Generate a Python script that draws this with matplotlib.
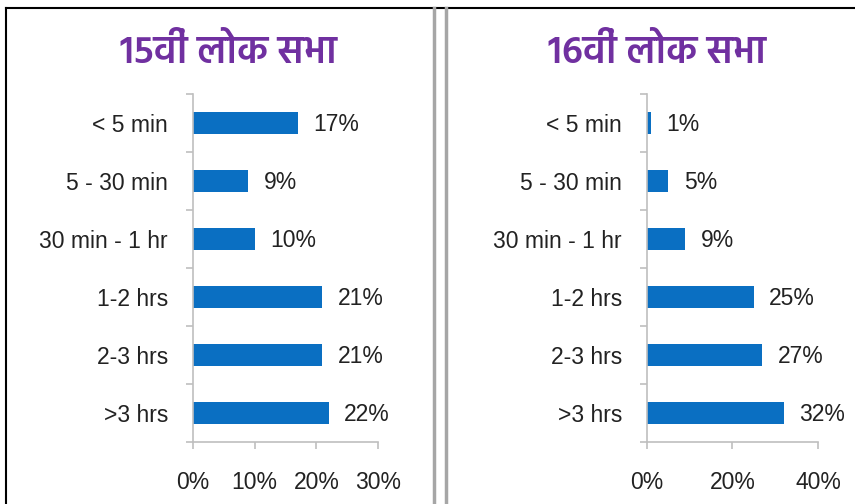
import matplotlib
matplotlib.use("Agg")
import matplotlib.pyplot as plt

# Data
categories = ["< 5 min", "5 - 30 min", "30 min - 1 hr", "1-2 hrs", "2-3 hrs", ">3 hrs"]
lok_sabha_15 = [17, 9, 10, 21, 21, 22]
lok_sabha_16 = [1, 5, 9, 25, 27, 32]
titles = ["15वीं लोक सभा", "16वीं लोक सभा"]
xticks_15 = [0, 10, 20, 30]
xticks_16 = [0, 20, 40]

BAR_COLOR = "#0A6FC2"
TITLE_COLOR = "#7030A0"
GREY = "#BFBFBF"

plt.rcParams["font.family"] = ["Liberation Sans", "DejaVu Sans"]
title_family = ["Hind", "FreeSans", "Liberation Sans", "DejaVu Sans"]

fig = plt.figure(figsize=(8.55, 5.04), dpi=100)

# (values, x ticks, left, width, title centre x in px)
panels = [
    (lok_sabha_15, xticks_15, 0.2257, 0.2164, 228),
    (lok_sabha_16, xticks_16, 0.7567, 0.2000, 657),
]

for (vals, xt, x0, w, tx), title in zip(panels, titles):
    ax = fig.add_axes([x0, 0.123, w, 0.690])
    y = list(range(len(categories)))
    ax.barh(y, vals, height=0.38, color=BAR_COLOR)
    for yi, v in zip(y, vals):
        ax.annotate(f"{v}%", (v, yi), xytext=(11, -1), textcoords="offset points",
                    va="center", ha="left", fontsize=16.5, color="#222222")
    ax.set_ylim(len(categories) - 0.5, -0.5)
    ax.set_xlim(xt[0], xt[-1])
    ax.set_yticks(y)
    ax.set_yticklabels(categories, fontsize=16.5, color="#222222")
    # small ticks between the categories
    ax.set_yticks([i + 0.5 for i in range(-1, len(categories))], minor=True)
    ax.tick_params(axis="y", which="major", length=0, pad=18)
    ax.tick_params(axis="y", which="minor", length=5, color=GREY, width=1.2)
    ax.set_xticks(xt)
    ax.set_xticklabels([f"{t}%" for t in xt], fontsize=16.5, color="#222222")
    ax.tick_params(axis="x", length=5, color=GREY, width=1.2, pad=16)
    for s in ["top", "right"]:
        ax.spines[s].set_visible(False)
    for s in ["left", "bottom"]:
        ax.spines[s].set_color(GREY)
        ax.spines[s].set_linewidth(1.2)
    fig.text(tx / 855, 1 - 52 / 504, title, ha="center", va="center", fontsize=28,
             fontweight="semibold", color=TITLE_COLOR, family=title_family)

# frame lines around the two panels
fig.add_artist(plt.Line2D([6 / 855, 6 / 855], [0, 1 - 8 / 504], color="black", lw=1.5))
fig.add_artist(plt.Line2D([6 / 855, 1], [1 - 8 / 504, 1 - 8 / 504], color="black", lw=1.5))
fig.add_artist(plt.Line2D([434 / 855, 434 / 855], [0, 1 - 8 / 504], color="#A6A6A6", lw=2.5))
fig.add_artist(plt.Line2D([446 / 855, 446 / 855], [0, 1 - 8 / 504], color="#A6A6A6", lw=2.5))

fig.savefig("out.png", dpi=100)
